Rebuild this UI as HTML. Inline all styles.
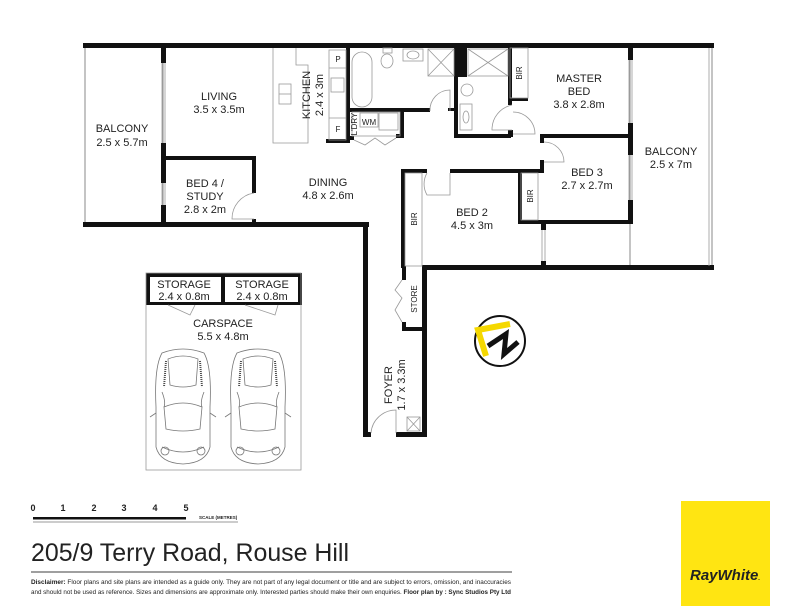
<!DOCTYPE html>
<html><head><meta charset="utf-8"><style>
html,body{margin:0;padding:0;background:#fff;}
svg{display:block}
text{font-family:"Liberation Sans",sans-serif;fill:#222}
</style></head><body>
<svg width="800" height="616" viewBox="0 0 800 616" xmlns="http://www.w3.org/2000/svg">
<defs>
<g id="car" fill="none" stroke="#777" stroke-width="0.8">
  <path d="M6 6 Q27 -2 48 6 Q56 20 54 60 L54 100 Q50 116 27 117 Q4 116 0 100 L0 60 Q-2 20 6 6Z"/>
  <path d="M12 12 Q27 6 42 12 L40 38 Q27 42 14 38Z"/>
  <path d="M10 14 L8 40 M44 14 L46 40" stroke="#444" stroke-width="2" stroke-dasharray="1 1"/>
  <path d="M8 60 Q27 52 46 60 L44 82 Q27 86 10 82Z"/>
  <path d="M6 100 Q27 110 48 100"/>
  <circle cx="9" cy="104" r="4"/><circle cx="45" cy="104" r="4"/>
  <path d="M0 66 L-6 70 M54 66 L60 70"/>
  <path d="M6 45 Q10 55 8 60 M48 45 Q44 55 46 60"/>
</g>
</defs>

<rect x="85" y="45" width="78" height="180" fill="none" stroke="#888" stroke-width="1"/>
<rect x="630" y="45" width="82" height="223" fill="none" stroke="#888" stroke-width="1"/>

<g fill="#111">
<rect x="83" y="43" width="631" height="5"/>
<rect x="161" y="45" width="5" height="18"/>
<rect x="161" y="143" width="5" height="40"/>
<rect x="161" y="205" width="5" height="20"/>
<rect x="161" y="156" width="94" height="4"/>
<rect x="252" y="156" width="4" height="37"/>
<rect x="252" y="219" width="4" height="5"/>
<rect x="83" y="222" width="286" height="5"/>
<rect x="363" y="222" width="5" height="215"/>
<rect x="363" y="432" width="8" height="5"/>
<rect x="396" y="432" width="31" height="5"/>
<rect x="422" y="266" width="5" height="171"/>
<rect x="402" y="266" width="4" height="14"/>
<rect x="402" y="322" width="4" height="8"/>
<rect x="402" y="327" width="22" height="4"/>
<rect x="422" y="265" width="292" height="5"/>
<rect x="401" y="170" width="4" height="98"/>
<rect x="401" y="169" width="26" height="4"/>
<rect x="450" y="169" width="94" height="4"/>
<rect x="540" y="135" width="4" height="8"/>
<rect x="540" y="160" width="4" height="13"/>
<rect x="518" y="170" width="4" height="54"/>
<rect x="518" y="220" width="114" height="4"/>
<rect x="541" y="220" width="5" height="10"/>
<rect x="541" y="261" width="5" height="7"/>
<rect x="540" y="134" width="92" height="4"/>
<rect x="628" y="45" width="5" height="15"/>
<rect x="628" y="123" width="5" height="32"/>
<rect x="628" y="200" width="5" height="24"/>
<rect x="508" y="45" width="4" height="60"/>
<rect x="508" y="98" width="20" height="3"/>
<rect x="508" y="130" width="5" height="7"/>
<rect x="454" y="45" width="13" height="32"/>
<rect x="454" y="75" width="4" height="62"/>
<rect x="454" y="134" width="57" height="4"/>
<rect x="346" y="45" width="4" height="97"/>
<rect x="346" y="108" width="84" height="4"/>
<rect x="400" y="108" width="4" height="30"/>
<rect x="326" y="139" width="24" height="4"/>
<rect x="346" y="136" width="8" height="4"/>
<rect x="396" y="134" width="8" height="4"/>
<rect x="448" y="108" width="10" height="3"/>
<rect x="146" y="273" width="156" height="4"/>
<rect x="146" y="273" width="4" height="32"/>
<rect x="298" y="273" width="4" height="32"/>
<rect x="221" y="273" width="4" height="32"/>
<rect x="146" y="302" width="155" height="3"/>
</g>

<g stroke="#999" stroke-width="0.8" fill="none">
<line x1="162" y1="63" x2="162" y2="143"/><line x1="165" y1="63" x2="165" y2="143"/>
<line x1="162" y1="183" x2="162" y2="205"/><line x1="165" y1="183" x2="165" y2="205"/>
<line x1="629" y1="60" x2="629" y2="123"/><line x1="632" y1="60" x2="632" y2="123"/>
<line x1="629" y1="155" x2="629" y2="200"/><line x1="632" y1="155" x2="632" y2="200"/>
<line x1="542" y1="230" x2="542" y2="261"/><line x1="545" y1="230" x2="545" y2="261"/>
<line x1="709" y1="48" x2="709" y2="266"/>
<rect x="146" y="273" width="155" height="197"/>
<path d="M273 48 L273 143 L308 143 L308 65 L296 65 L296 48"/>
<rect x="279" y="84" width="12" height="20"/>
<line x1="279" y1="94" x2="291" y2="94"/>
<path d="M329 50 L346 50 L346 140 L329 140 Z"/>
<line x1="329" y1="68" x2="346" y2="68"/>
<line x1="329" y1="118" x2="346" y2="118"/>
<rect x="331" y="78" width="13" height="14"/>
<rect x="352" y="52" width="20" height="55" rx="10"/>
<ellipse cx="387" cy="61" rx="6" ry="7"/><rect x="383" y="48" width="9" height="5"/>
<rect x="403" y="49" width="20" height="12"/><ellipse cx="413" cy="55" rx="6" ry="4"/>
<rect x="428" y="49" width="26" height="27"/><path d="M428 49 L454 76 M454 49 L428 76"/>
<rect x="468" y="49" width="40" height="27"/><path d="M468 49 L508 76 M508 49 L468 76"/>
<ellipse cx="467" cy="90" rx="6" ry="6"/>
<rect x="460" y="104" width="12" height="26"/><ellipse cx="466" cy="117" rx="3" ry="6"/>
<rect x="510" y="48" width="18" height="50"/>
<rect x="352" y="112" width="48" height="24"/>
<rect x="360" y="113" width="18" height="14"/>
<rect x="379" y="113" width="19" height="17"/>
<rect x="405" y="173" width="17" height="93"/>
<rect x="521" y="173" width="17" height="47"/>
<path d="M254 193 A26 26 0 0 0 232 219 L254 219"/>
<path d="M430 111 A20 20 0 0 1 450 90 L450 111"/>
<path d="M512 105 A25 25 0 0 0 492 130 L512 130"/>
<path d="M513 112 A22 22 0 0 1 535 134 L513 134"/>
<path d="M544 142 A20 20 0 0 1 564 162 L544 162"/>
<path d="M427 173 A22 22 0 0 0 427 195 L450 195 L450 173"/>
<path d="M371 433 A25 25 0 0 1 396 410 L396 433"/>
<path d="M354 140 L365 145 L375 138 L385 145 L396 138"/>
<path d="M402 280 L395 290 L402 298 L395 310 L402 322"/>
<path d="M168 305 L190 315 L195 305 M245 305 L275 315 L278 305"/>
<rect x="407" y="417" width="13" height="14"/><path d="M407 417 L420 431 M420 417 L407 431"/>
</g>

<use href="#car" x="156" y="347"/>
<use href="#car" x="231" y="347"/>

<circle cx="500" cy="341" r="25" fill="#fff" stroke="#111" stroke-width="2"/>
<path d="M486 356 L478 330 L510 324" fill="none" stroke="#f5d800" stroke-width="6"/>
<path d="M488 346 L506 334 L504 354 L518 342" fill="none" stroke="#111" stroke-width="5"/>

<g font-size="11" text-anchor="middle">
<text x="122" y="132">BALCONY</text><text x="122" y="146">2.5 x 5.7m</text>
<text x="219" y="100">LIVING</text><text x="219" y="113">3.5 x 3.5m</text>
<text x="205" y="187">BED 4 /</text><text x="205" y="200">STUDY</text><text x="205" y="213">2.8 x 2m</text>
<text x="328" y="186">DINING</text><text x="328" y="199">4.8 x 2.6m</text>
<text x="579" y="82">MASTER</text><text x="579" y="95">BED</text><text x="579" y="108">3.8 x 2.8m</text>
<text x="671" y="155">BALCONY</text><text x="671" y="168">2.5 x 7m</text>
<text x="587" y="176">BED 3</text><text x="587" y="189">2.7 x 2.7m</text>
<text x="472" y="216">BED 2</text><text x="472" y="229">4.5 x 3m</text>
<text x="184" y="288">STORAGE</text><text x="184" y="300">2.4 x 0.8m</text>
<text x="262" y="288">STORAGE</text><text x="262" y="300">2.4 x 0.8m</text>
<text x="223" y="327">CARSPACE</text><text x="223" y="340">5.5 x 4.8m</text>
<text transform="translate(310 95) rotate(-90)">KITCHEN</text>
<text transform="translate(323 95) rotate(-90)">2.4 x 3m</text>
<text transform="translate(392 385) rotate(-90)">FOYER</text>
<text transform="translate(405 385) rotate(-90)">1.7 x 3.3m</text>
</g>
<g font-size="8" text-anchor="middle">
<text x="338" y="62">P</text><text x="338" y="132">F</text>
<text x="369" y="125">WM</text>
<text transform="translate(357 124) rotate(-90)">L'DRY</text>
<text transform="translate(417 219) rotate(-90)">BIR</text>
<text transform="translate(533 196) rotate(-90)">BIR</text>
<text transform="translate(522 73) rotate(-90)">BIR</text>
<text transform="translate(417 299) rotate(-90)">STORE</text>
</g>

<g font-size="9" font-weight="bold" text-anchor="middle">
<text x="33" y="511">0</text><text x="63" y="511">1</text><text x="94" y="511">2</text><text x="124" y="511">3</text><text x="155" y="511">4</text><text x="186" y="511">5</text>
</g>
<rect x="33" y="517" width="153" height="2.5" fill="#111"/>
<line x1="33" y1="522" x2="238" y2="522" stroke="#999" stroke-width="1"/>
<text x="199" y="519" font-size="4.5" font-weight="bold">SCALE (METRES)</text>
<text x="31" y="561" font-size="25" fill="#111" textLength="318" lengthAdjust="spacingAndGlyphs">205/9 Terry Road, Rouse Hill</text>
<line x1="31" y1="572" x2="512" y2="572" stroke="#666" stroke-width="1.2"/>
<text x="31" y="584" font-size="6.3" textLength="480" lengthAdjust="spacingAndGlyphs"><tspan font-weight="bold">Disclaimer:</tspan> Floor plans and site plans are intended as a guide only. They are not part of any legal document or title and are subject to errors, omission, and inaccuracies</text>
<text x="31" y="594" font-size="6.3" textLength="480" lengthAdjust="spacingAndGlyphs">and should not be used as reference. Sizes and dimensions are approximate only. Interested parties should make their own enquiries. <tspan font-weight="bold">Floor plan by : Sync Studios Pty Ltd</tspan></text>
<rect x="681" y="501" width="89" height="105" fill="#ffe512"/>
<text x="725" y="580" font-size="15" font-weight="bold" font-style="italic" text-anchor="middle" fill="#3a3a4a">RayWhite<tspan font-size="6">.</tspan></text>
</svg>
</body></html>
